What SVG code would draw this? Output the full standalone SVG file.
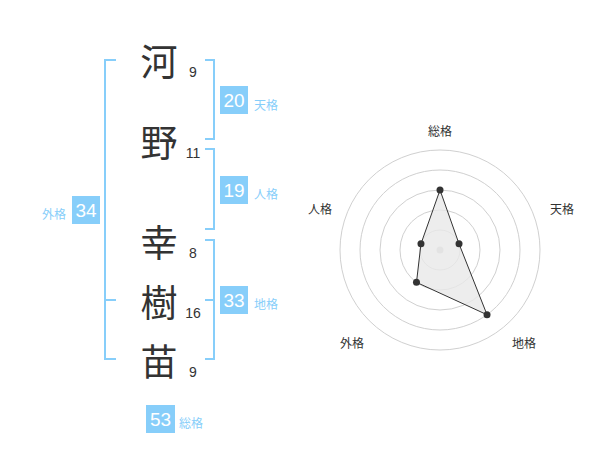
<svg xmlns="http://www.w3.org/2000/svg" width="600" height="470" viewBox="0 0 600 470">
<style>
.k{font-family:"Noto Sans CJK JP","Noto Sans CJK SC",sans-serif;font-size:37px;fill:#333;text-anchor:middle;dominant-baseline:central}
.n{font-family:"Liberation Sans",Arial,sans-serif;font-size:14px;fill:#333;text-anchor:middle}
.br{fill:none;stroke:#87cefa;stroke-width:2}
.box{fill:#87cefa}
.bt{font-family:"Liberation Sans",Arial,sans-serif;font-size:19px;fill:#fff;text-anchor:middle}
.lb{font-family:"Noto Sans CJK JP","Noto Sans CJK SC",sans-serif;font-size:12px;fill:#87cefa;dominant-baseline:central}
.rl{font-family:"Noto Sans CJK JP","Noto Sans CJK SC",sans-serif;font-size:12px;fill:#333;text-anchor:middle;dominant-baseline:central}
.ring{fill:none;stroke:#d0d0d0;stroke-width:1}
.pt{fill:#333}
</style>
<rect width="600" height="470" fill="#fff"/>
<g id="connectors">
<path class="br" d="M205,60 H214 V139 H205"/>
<path class="br" d="M205,149 H214 V229 H205"/>
<path class="br" d="M205,240 H214 V359 H205 M205,300 H214"/>
<path class="br" d="M116,60 H105 V359 H116 M105,300 H116"/>
</g>
<g id="char-1"><text class="k" x="159" y="60">河</text><text class="n" x="193" y="77">9</text></g>
<g id="char-2"><text class="k" x="159" y="141">野</text><text class="n" x="193" y="158">11</text></g>
<g id="char-3"><text class="k" x="159" y="241">幸</text><text class="n" x="193" y="258">8</text></g>
<g id="char-4"><text class="k" x="159" y="301">樹</text><text class="n" x="193" y="318">16</text></g>
<g id="char-5"><text class="k" x="159" y="360">苗</text><text class="n" x="193" y="377">9</text></g>
<g id="tenkaku"><rect class="box" x="220" y="86" width="28" height="28"/><text class="bt" x="234" y="107">20</text><text class="lb" x="254" y="104">天格</text></g>
<g id="jinkaku"><rect class="box" x="220" y="176" width="28" height="28"/><text class="bt" x="234" y="197">19</text><text class="lb" x="254" y="193">人格</text></g>
<g id="chikaku"><rect class="box" x="220" y="286" width="28" height="28"/><text class="bt" x="234" y="307">33</text><text class="lb" x="254" y="303">地格</text></g>
<g id="gaikaku"><rect class="box" x="72" y="196" width="28" height="28"/><text class="bt" x="86" y="217">34</text><text class="lb" x="66" y="213" text-anchor="end">外格</text></g>
<g id="soukaku"><rect class="box" x="146" y="405" width="29" height="28"/><text class="bt" x="160.5" y="426">53</text><text class="lb" x="179" y="422">総格</text></g>
<g id="radar">
<circle class="ring" cx="440" cy="250" r="20"/>
<circle class="ring" cx="440" cy="250" r="40"/>
<circle class="ring" cx="440" cy="250" r="60"/>
<circle class="ring" cx="440" cy="250" r="80"/>
<circle class="ring" cx="440" cy="250" r="100"/>
<circle cx="440" cy="250" r="3.5" fill="#ccc"/>
<polygon points="440,190 459.02,243.82 487.02,314.72 416.49,282.36 420.98,243.82" fill="#e8e8e8" fill-opacity="0.8" stroke="#333" stroke-width="1"/>
<circle class="pt" cx="440" cy="190" r="3.5"/>
<circle class="pt" cx="459.02" cy="243.82" r="3.5"/>
<circle class="pt" cx="487.02" cy="314.72" r="3.5"/>
<circle class="pt" cx="416.49" cy="282.36" r="3.5"/>
<circle class="pt" cx="420.98" cy="243.82" r="3.5"/>
<text class="rl" x="440" y="130">総格</text>
<text class="rl" x="562" y="208">天格</text>
<text class="rl" x="524" y="342">地格</text>
<text class="rl" x="352" y="342">外格</text>
<text class="rl" x="320" y="208">人格</text>
</g>
</svg>
